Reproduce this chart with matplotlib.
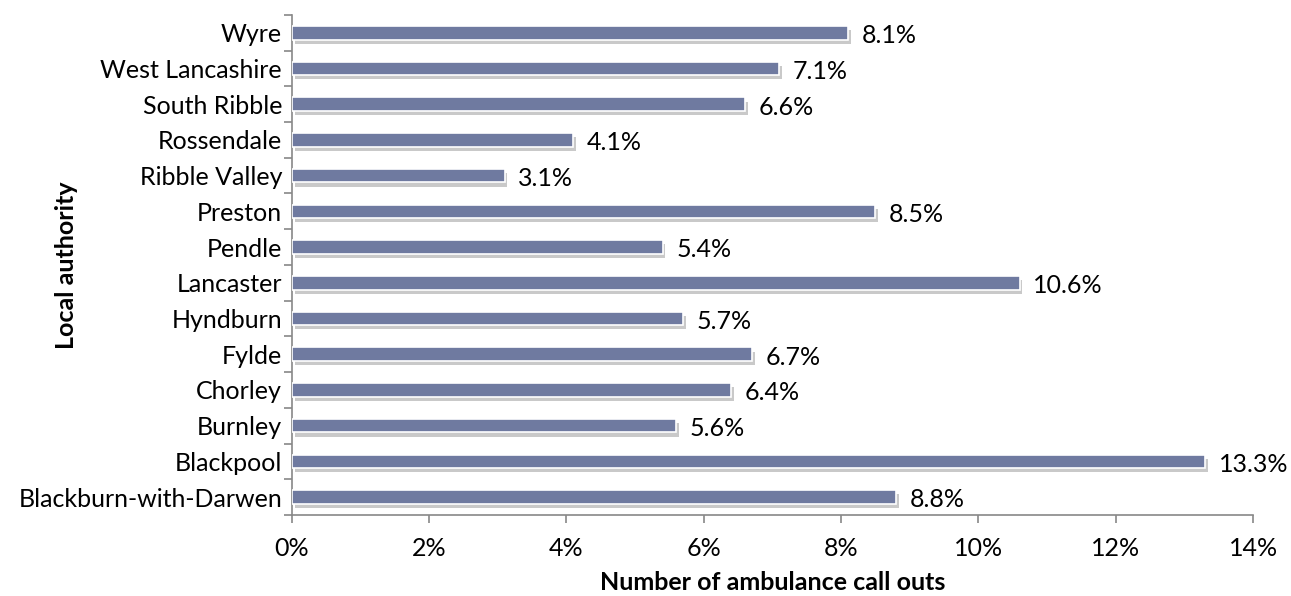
import matplotlib
matplotlib.use("Agg")
import matplotlib.pyplot as plt
import matplotlib.patheffects as pe
from matplotlib.ticker import FuncFormatter

authorities = ["Blackburn-with-Darwen", "Blackpool", "Burnley", "Chorley", "Fylde",
               "Hyndburn", "Lancaster", "Pendle", "Preston", "Ribble Valley",
               "Rossendale", "South Ribble", "West Lancashire", "Wyre"]
callouts = [8.8, 13.3, 5.6, 6.4, 6.7, 5.7, 10.6, 5.4, 8.5, 3.1, 4.1, 6.6, 7.1, 8.1]

plt.rcParams['font.family'] = ['Lato', 'DejaVu Sans']
plt.rcParams['font.size'] = 18

fig = plt.figure(figsize=(12.91, 5.96), dpi=100)
ax = fig.add_axes([0.226, 0.136, 0.7446, 0.839])

ypos = list(range(len(authorities)))
bars = ax.barh(ypos, callouts, height=0.38, color='#6F7AA0', edgecolor='white', linewidth=1.2,
               zorder=3)
for b in bars:
    b.set_path_effects([pe.SimplePatchShadow(offset=(2, -3), shadow_rgbFace='#888888', alpha=0.45),
                        pe.Normal()])

for y, v in zip(ypos, callouts):
    ax.text(v + 0.2, y - 0.08, f"{v:.1f}%", ha='left', va='center', fontsize=18)

ax.set_xlim(0, 14)
ax.set_ylim(-0.5, len(authorities) - 0.5)
ax.set_xticks(range(0, 15, 2))
ax.xaxis.set_major_formatter(FuncFormatter(lambda x, p: f"{x:.0f}%"))
ax.set_yticks([i - 0.5 for i in range(len(authorities) + 1)], minor=False)
ax.set_yticklabels([])
ax.set_yticks(ypos, minor=True)
ax.set_yticklabels(authorities, minor=True)
ax.tick_params(axis='y', which='minor', length=0, pad=7)
ax.tick_params(axis='y', which='major', length=6, color='#888888', width=1.2)
ax.tick_params(axis='x', length=6, color='#888888', width=1.2, pad=10)

for s in ['top', 'right']:
    ax.spines[s].set_visible(False)
for s in ['left', 'bottom']:
    ax.spines[s].set_color('#888888')
    ax.spines[s].set_linewidth(1.2)

ax.set_xlabel("Number of ambulance call outs", fontweight='bold', fontsize=18, labelpad=8)
ax.set_ylabel("Local authority", fontweight='bold', fontsize=18)
ax.yaxis.set_label_coords(-0.222, 0.5)

fig.savefig("out.png", dpi=100)
